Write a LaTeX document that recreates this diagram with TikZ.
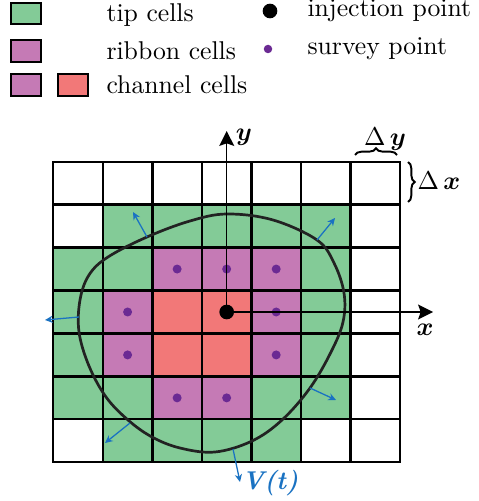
\documentclass[tikz,border=0pt]{standalone}
\usepackage{bm}
\usetikzlibrary{arrows.meta,decorations.pathreplacing}
\definecolor{cG}{HTML}{83CB97}
\definecolor{cP}{HTML}{C57AB5}
\definecolor{cR}{HTML}{F27878}
\definecolor{cW}{HTML}{FFFFFF}
\definecolor{survey}{HTML}{6B2A93}
\definecolor{vblue}{HTML}{1A72C2}
\definecolor{frontc}{HTML}{222222}
\tikzset{
  gridline/.style={line width=0.9pt, black, line cap=rect},
  legbox/.style={draw=black, line width=0.8pt},
  lbl/.style={inner sep=0pt, anchor=base west},
  axis/.style={line width=0.6pt, -{Stealth[length=5.8pt,width=5.8pt,inset=1pt]}},
  vel/.style={vblue, line width=0.5pt, -{Stealth[length=3pt,width=2.8pt]}},
  sdot/.style={circle, fill=survey, inner sep=0pt, minimum size=3.5pt},
  idot/.style={circle, fill=black, inner sep=0pt, minimum size=5.7pt},
  front/.style={frontc, line width=1.05pt},
  brc/.style={decorate, decoration={brace, amplitude=2.6pt}, line width=0.75pt},
  mlbl/.style={inner sep=0pt},
}
\begin{document}
\begin{tikzpicture}[x=0.389pt, y=-0.389pt]
\useasboundingbox (0,0) rectangle (478,501);
% legend
\draw[legbox, fill=cG] (11,3) rectangle (41,24);
\draw[legbox, fill=cP] (11,40) rectangle (41,62);
\draw[legbox, fill=cP] (11,74) rectangle (41,96);
\draw[legbox, fill=cR] (58,74) rectangle (88,96);
\node[lbl] (ltip) at (106,22) {tip cells};
\node[lbl] (lrib) at (106,60) {ribbon cells};
\node[lbl] (lchan) at (106,94) {channel cells};
\node[idot] (linjdot) at (270,11) {};
\node[sdot, minimum size=3.3pt] (lsurdot) at (268,49) {};
\node[lbl] (linj) at (307,17) {injection point};
\node[lbl] (lsur) at (307,55) {survey point};
% cells
\foreach \rowlist [count=\r] in {{W,W,W,W,W,W,W},{W,G,G,G,G,G,W},{G,G,P,P,P,G,W},{G,P,R,R,P,G,W},{G,P,R,R,P,G,W},{G,G,P,P,G,G,W},{W,G,G,G,G,W,W}}
  \foreach \c [count=\k] in \rowlist
    \fill[fill=c\c] ({53.3+49.53*(\k-1)},{161.7+42.94*(\r-1)}) rectangle +(49.53,42.94);
% grid
\foreach \k in {0,...,7}
  \draw[gridline] ({53.3+49.53*\k},161.7) -- ({53.3+49.53*\k},462.3);
\foreach \k in {0,...,7}
  \draw[gridline] (53.3,{161.7+42.94*\k}) -- (400,{161.7+42.94*\k});
% survey points
\foreach \r/\c [count=\i] in {3/3,3/4,3/5,4/2,4/5,5/2,5/5,6/3,6/4}
  \node[sdot] (s\i) at ({53.3+49.53*(\c-0.5)},{161.7+42.94*(\r-0.5)}) {};
% front
\draw[front] plot[smooth cycle, tension=0.6] coordinates {(227,214) (273,220) (317,240) (334,263) (344,293) (343,322) (331,352) (310,388) (282,420) (252,441) (215,452) (180,448) (152,437) (128,420) (106,397) (89,366) (79,332) (80,300) (89,275) (108,257) (147,237) (190,221)};
% velocity arrows
\coordinate (v1a) at (147,237); \coordinate (v1b) at (133,212);
\coordinate (v2a) at (317,240); \coordinate (v2b) at (335,218);
\coordinate (v3a) at (79,317);  \coordinate (v3b) at (45,320);
\coordinate (v4a) at (310,388); \coordinate (v4b) at (336,400);
\coordinate (v5a) at (130,423); \coordinate (v5b) at (105,443);
\coordinate (v6a) at (233,449); \coordinate (v6b) at (240,482);
\foreach \i in {1,...,6} \draw[vel] (v\i a) -- (v\i b);
\node[mlbl, text=vblue] (vlab) at (270,483) {\textbf{\textit{V(t)}}};
% axes
\node[idot] (inj) at (226.7,312) {};
\coordinate (ytip) at (226.7,131);
\coordinate (xtip) at (433,312);
\draw[axis] (inj.center) -- (ytip);
\draw[axis] (inj.center) -- (xtip);
\node[mlbl] (ylab) at (244,137) {$\bm{y}$};
\node[mlbl] (xlab) at (425,330) {$\bm{x}$};
% braces
\coordinate (by1) at (355,155); \coordinate (by2) at (397,155);
\draw[brc] (by1) -- (by2);
\node[mlbl] (dylab) at (385,139) {$\Delta\,\bm{y}$};
\coordinate (bx1) at (408,162); \coordinate (bx2) at (408,202);
\draw[brc] (bx1) -- (bx2);
\node[mlbl] (dxlab) at (439,181) {$\Delta\,\bm{x}$};
\end{tikzpicture}
\end{document}
